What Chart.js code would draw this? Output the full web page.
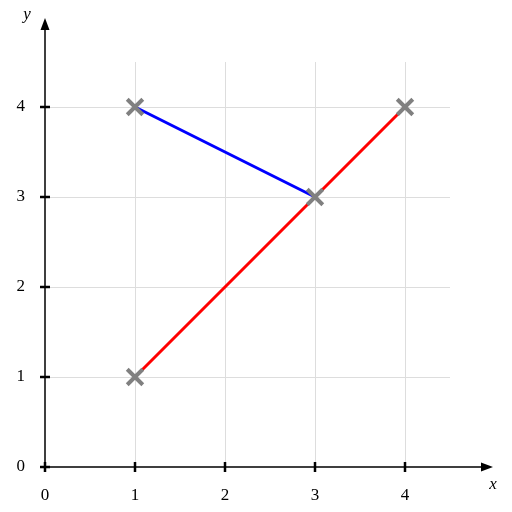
<!DOCTYPE html>
<html>
<head>
<meta charset="utf-8">
<script src="https://cdn.jsdelivr.net/npm/chart.js@4.4.1/dist/chart.umd.min.js"></script>
<style>
  body { margin: 0; background: #fff; }
  #wrap { width: 512px; height: 512px; }
</style>
</head>
<body>
<div id="wrap"><canvas id="myChart" width="512" height="512"></canvas></div>
<script>
// data
var blueLine = [{x: 1, y: 4}, {x: 3, y: 3}];
var redLine = [{x: 1, y: 1}, {x: 4, y: 4}];
var crossPoints = [{x: 1, y: 4}, {x: 3, y: 3}, {x: 1, y: 1}, {x: 4, y: 4}];
var xTicks = [0, 1, 2, 3, 4];
var yTicks = [0, 1, 2, 3, 4];
var gridValues = [1, 2, 3, 4];
var gridEnd = 4.5;
var axisEnd = 5;

var serif = '"Liberation Serif", "DejaVu Serif", serif';

// grid, axis lines, tick marks, arrows and axis names
var axesPlugin = {
    id: 'axesPlugin',
    beforeDatasetsDraw(chart) {
        var ctx = chart.ctx;
        var xs = chart.scales.x, ys = chart.scales.y;
        ctx.save();
        ctx.strokeStyle = '#dddddd';
        ctx.lineWidth = 1;
        gridValues.forEach(function (v) {
            var px = Math.round(xs.getPixelForValue(v)) + 0.5;
            ctx.beginPath();
            ctx.moveTo(px, ys.getPixelForValue(gridEnd));
            ctx.lineTo(px, ys.getPixelForValue(0));
            ctx.stroke();
            var py = Math.round(ys.getPixelForValue(v)) + 0.5;
            ctx.beginPath();
            ctx.moveTo(xs.getPixelForValue(0), py);
            ctx.lineTo(xs.getPixelForValue(gridEnd), py);
            ctx.stroke();
        });
        ctx.restore();
    },
    afterDatasetsDraw(chart) {
        var ctx = chart.ctx;
        var xs = chart.scales.x, ys = chart.scales.y;
        var x0 = xs.getPixelForValue(0), y0 = ys.getPixelForValue(0);
        var xEnd = xs.getPixelForValue(axisEnd), yEnd = ys.getPixelForValue(axisEnd);
        ctx.save();
        ctx.strokeStyle = '#000';
        ctx.fillStyle = '#000';
        ctx.lineWidth = 1.5;
        ctx.beginPath();
        ctx.moveTo(x0, y0);
        ctx.lineTo(xEnd - 8, y0);
        ctx.moveTo(x0, y0);
        ctx.lineTo(x0, yEnd + 8);
        ctx.stroke();
        // arrows
        ctx.beginPath();
        ctx.moveTo(xEnd - 2, y0);
        ctx.lineTo(xEnd - 14, y0 - 4.5);
        ctx.lineTo(xEnd - 14, y0 + 4.5);
        ctx.closePath();
        ctx.fill();
        ctx.beginPath();
        ctx.moveTo(x0, yEnd + 1);
        ctx.lineTo(x0 - 4.5, yEnd + 13);
        ctx.lineTo(x0 + 4.5, yEnd + 13);
        ctx.closePath();
        ctx.fill();
        // tick marks
        ctx.lineWidth = 2.5;
        xTicks.forEach(function (v) {
            var px = xs.getPixelForValue(v);
            ctx.beginPath();
            ctx.moveTo(px, y0 - 5);
            ctx.lineTo(px, y0 + 5);
            ctx.stroke();
        });
        yTicks.forEach(function (v) {
            var py = ys.getPixelForValue(v);
            ctx.beginPath();
            ctx.moveTo(x0 - 5, py);
            ctx.lineTo(x0 + 5, py);
            ctx.stroke();
        });
        // axis names
        ctx.font = 'italic 17px ' + serif;
        ctx.textAlign = 'center';
        ctx.textBaseline = 'middle';
        ctx.fillText('x', xEnd - 2, y0 + 18);
        ctx.fillText('y', x0 - 18, yEnd - 2);
        ctx.restore();
    }
};

var ctx1 = document.getElementById('myChart').getContext('2d');
var myChart = new Chart(ctx1, {
    type: 'scatter',
    data: {
        datasets: [{
            label: 'crosses',
            data: crossPoints,
            pointStyle: 'crossRot',
            pointRadius: 11,
            pointBorderWidth: 4,
            borderColor: '#808080',
            backgroundColor: '#808080',
            showLine: false
        }, {
            label: 'blue',
            data: blueLine,
            showLine: true,
            borderColor: '#0000ff',
            borderWidth: 3,
            pointRadius: 0
        }, {
            label: 'red',
            data: redLine,
            showLine: true,
            borderColor: '#ff0000',
            borderWidth: 3,
            pointRadius: 0
        }]
    },
    options: {
        responsive: false,
        animation: false,
        layout: { autoPadding: false, padding: { top: 17, right: 17, left: 0, bottom: 0 } },
        plugins: {
            legend: { display: false },
            tooltip: { enabled: false }
        },
        scales: {
            x: {
                type: 'linear',
                min: 0,
                max: axisEnd,
                grid: { display: false, drawTicks: false },
                border: { display: false },
                afterBuildTicks: function (scale) {
                    scale.ticks = xTicks.map(function (v) { return {value: v}; });
                },
                afterFit: function (scale) {
                    scale.height = 45;
                    scale.paddingLeft = 0;
                    scale.paddingRight = 0;
                },
                ticks: {
                    color: '#000',
                    padding: 18,
                    maxRotation: 0,
                    font: { family: serif, size: 17 }
                }
            },
            y: {
                type: 'linear',
                min: 0,
                max: axisEnd,
                grid: { display: false, drawTicks: false },
                border: { display: false },
                afterBuildTicks: function (scale) {
                    scale.ticks = yTicks.map(function (v) { return {value: v}; });
                },
                afterFit: function (scale) {
                    scale.width = 45;
                    scale.paddingTop = 0;
                    scale.paddingBottom = 0;
                },
                ticks: {
                    color: '#000',
                    padding: 20,
                    font: { family: serif, size: 17 }
                }
            }
        }
    },
    plugins: [axesPlugin]
});
</script>
</body>
</html>
